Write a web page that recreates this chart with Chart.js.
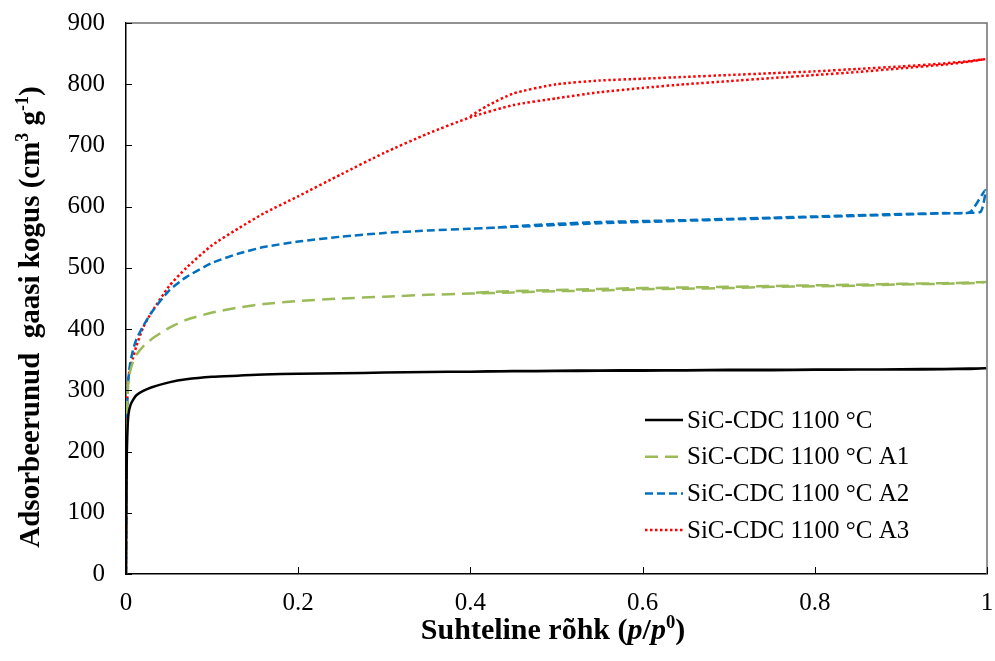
<!DOCTYPE html>
<html lang="et">
<head>
<meta charset="utf-8">
<title>Adsorptsiooni isotermid</title>
<script src="https://cdn.jsdelivr.net/npm/chart.js@4.4.1/dist/chart.umd.min.js"></script>
<style>
  html, body { margin: 0; padding: 0; background: #fff; }
  #wrap { width: 995px; height: 661px; }
</style>
</head>
<body>
<div id="wrap"><canvas id="iso" width="995" height="661"></canvas></div>
<script>
// relative pressure p/p0 for adsorption and desorption branches
const pAds = [0, 0.0005, 0.001, 0.002, 0.003, 0.005, 0.008, 0.012, 0.02, 0.03, 0.05, 0.07, 0.1, 0.13, 0.16, 0.2,
  0.25, 0.3, 0.35, 0.4, 0.45, 0.5, 0.55, 0.6, 0.65, 0.7, 0.75, 0.8, 0.85, 0.9, 0.95, 0.98, 0.993, 0.998];
const pDes = [0.98, 0.95, 0.9, 0.85, 0.8, 0.75, 0.7, 0.65, 0.6, 0.55, 0.5, 0.45, 0.42, 0.4];

// adsorbed volume, cm3/g
const cdcAds = [0, 120, 200, 245, 262, 275, 284, 292, 299, 305, 313, 318, 322, 324, 326, 327,
  328, 329, 330, 330.5, 331, 331.5, 332, 332, 332.5, 333, 333, 333.5, 334, 334, 334.5, 335, 335.5, 336];
const cdcDes = [335.5, 335, 334.5, 334, 334, 333.5, 333.5, 333, 333, 332.5, 332, 331.5, 331, 330.5];

const a1Ads = [0, 150, 240, 300, 318, 332, 346, 358, 372, 384, 402, 415, 427, 435, 441, 446,
  450, 453, 456, 458, 460, 462, 463, 465, 466, 467, 469, 470, 471, 473, 474, 475, 476, 477];
const a1Des = [476, 475, 474, 472.5, 471.5, 470.5, 469, 468, 467, 465.5, 464, 462, 460.5, 459];

const a2Ads = [0, 150, 250, 300, 322, 345, 365, 383, 405, 428, 463, 485, 508, 523, 534, 543,
  551, 557, 561, 564, 567, 570, 573, 575, 577, 579, 581, 583, 585, 587, 589, 590, 592, 627];
const a2Des = [591, 589.5, 588, 586, 584, 582, 580, 578, 576.5, 575, 572, 568, 565, 564];

const a3Ads = [0, 150, 250, 305, 322, 340, 352, 372, 403, 428, 470, 500, 537, 564, 589, 617,
  653, 688, 719, 746, 766, 777, 787, 794, 800, 805, 810, 815, 820, 826, 832, 837, 840, 841];
const a3Des = [838, 834, 829, 825, 821, 818, 815, 812, 809, 806, 800, 785, 765, 748];

const seriesNames = ['SiC-CDC 1100 °C', 'SiC-CDC 1100 °C A1', 'SiC-CDC 1100 °C A2', 'SiC-CDC 1100 °C A3'];
const xTickLabels = ['0', '0.2', '0.4', '0.6', '0.8', '1'];
const yTickLabels = ['0', '100', '200', '300', '400', '500', '600', '700', '800', '900'];

const serif = '"Liberation Serif", "Times New Roman", serif';

// one dataset per sample: adsorption branch followed by the desorption branch
function loop(ads, des) {
  const pts = pAds.map((p, i) => ({ x: p, y: ads[i] }));
  return pts.concat(pDes.map((p, i) => ({ x: p, y: des[i] })));
}

const styles = [
  { color: '#000000', dash: [], width: 2.5 },
  { color: '#9BBB59', dash: [13, 7], width: 2.5 },
  { color: '#0070C0', dash: [8, 4], width: 2.5 },
  { color: '#FF0000', dash: [2.5, 2.5], width: 2.5 }
];

const branches = [[cdcAds, cdcDes], [a1Ads, a1Des], [a2Ads, a2Des], [a3Ads, a3Des]];

const datasets = branches.map(([ads, des], i) => ({
  label: seriesNames[i],
  data: loop(ads, des),
  showLine: true,
  borderColor: styles[i].color,
  borderDash: styles[i].dash,
  borderWidth: styles[i].width,
  pointRadius: 0,
  fill: false,
  tension: 0.2
}));

// text made of runs (italic / superscript pieces)
function runFont(r, size) {
  return (r.italic ? 'italic ' : '') + 'bold ' + (r.sup ? size * 0.62 : size) + 'px ' + serif;
}

function drawRuns(ctx, runs, cx, baseY, size) {
  let w = 0;
  runs.forEach(r => { ctx.font = runFont(r, size); w += ctx.measureText(r.t).width; });
  let x = cx - w / 2;
  ctx.textAlign = 'left';
  ctx.textBaseline = 'alphabetic';
  runs.forEach(r => {
    ctx.font = runFont(r, size);
    ctx.fillText(r.t, x, r.sup ? baseY - size * 0.38 : baseY);
    x += ctx.measureText(r.t).width;
  });
}

const framePlugin = {
  id: 'frame',
  afterDraw(chart) {
    const { ctx, chartArea: a, scales } = chart;
    ctx.save();

    // top and right edges of the plot box
    ctx.strokeStyle = '#6f6f6f';
    ctx.lineWidth = 1.5;
    ctx.beginPath();
    ctx.moveTo(a.left, a.top);
    ctx.lineTo(a.right, a.top);
    ctx.lineTo(a.right, a.bottom);
    ctx.stroke();

    // inward tick marks
    ctx.strokeStyle = '#000';
    ctx.lineWidth = 1;
    ctx.beginPath();
    scales.y.ticks.forEach(t => {
      const y = Math.round(scales.y.getPixelForValue(t.value)) + 0.5;
      ctx.moveTo(a.left, y);
      ctx.lineTo(a.left + 6, y);
    });
    scales.x.ticks.forEach(t => {
      const x = Math.round(scales.x.getPixelForValue(t.value)) + 0.5;
      ctx.moveTo(x, a.bottom);
      ctx.lineTo(x, a.bottom - 7);
    });
    ctx.stroke();

    // legend
    const lx = 645, ly = 420, rowH = 36.7;
    chart.data.datasets.forEach((ds, i) => {
      const y = ly + i * rowH;
      ctx.strokeStyle = ds.borderColor;
      ctx.lineWidth = ds.borderWidth;
      ctx.setLineDash(ds.borderDash);
      ctx.beginPath();
      ctx.moveTo(lx, y);
      ctx.lineTo(lx + 38, y);
      ctx.stroke();
      ctx.setLineDash([]);
      ctx.fillStyle = '#000';
      ctx.font = '25px ' + serif;
      ctx.textAlign = 'left';
      ctx.textBaseline = 'middle';
      ctx.fillText(ds.label, lx + 42, y + 1);
    });

    // axis titles
    ctx.fillStyle = '#000';
    drawRuns(ctx, [
      { t: 'Suhteline rõhk (' },
      { t: 'p', italic: true },
      { t: '/' },
      { t: 'p', italic: true },
      { t: '0', sup: true },
      { t: ')' }
    ], 553, 639, 30);

    ctx.translate(39, 317);
    ctx.rotate(-Math.PI / 2);
    drawRuns(ctx, [
      { t: 'Adsorbeerunud  gaasi kogus (cm' },
      { t: '3', sup: true },
      { t: ' g' },
      { t: '-1', sup: true },
      { t: ')' }
    ], 0, 0, 29);

    ctx.restore();
  }
};

new Chart(document.getElementById('iso'), {
  type: 'scatter',
  data: { datasets },
  options: {
    responsive: false,
    animation: false,
    layout: { padding: { top: 23, right: 8, left: 0, bottom: 0 } },
    plugins: { legend: { display: false }, tooltip: { enabled: false } },
    scales: {
      x: {
        type: 'linear',
        min: 0,
        max: 1,
        ticks: {
          stepSize: 0.2,
          color: '#000',
          padding: 14,
          maxRotation: 0,
          font: { family: serif, size: 25 },
          callback: (v, i) => xTickLabels[i]
        },
        grid: { display: false, drawTicks: false },
        border: { color: '#000', width: 1.5 },
        afterFit: s => { s.height = 87; s.paddingLeft = 0; s.paddingRight = 0; }
      },
      y: {
        type: 'linear',
        min: 0,
        max: 900,
        ticks: {
          stepSize: 100,
          color: '#000',
          padding: 21,
          font: { family: serif, size: 25 },
          callback: (v, i) => yTickLabels[i]
        },
        grid: { display: false, drawTicks: false },
        border: { color: '#000', width: 1.5 },
        afterFit: s => { s.width = 126; s.paddingTop = 0; s.paddingBottom = 0; }
      }
    }
  },
  plugins: [framePlugin]
});
</script>
</body>
</html>
